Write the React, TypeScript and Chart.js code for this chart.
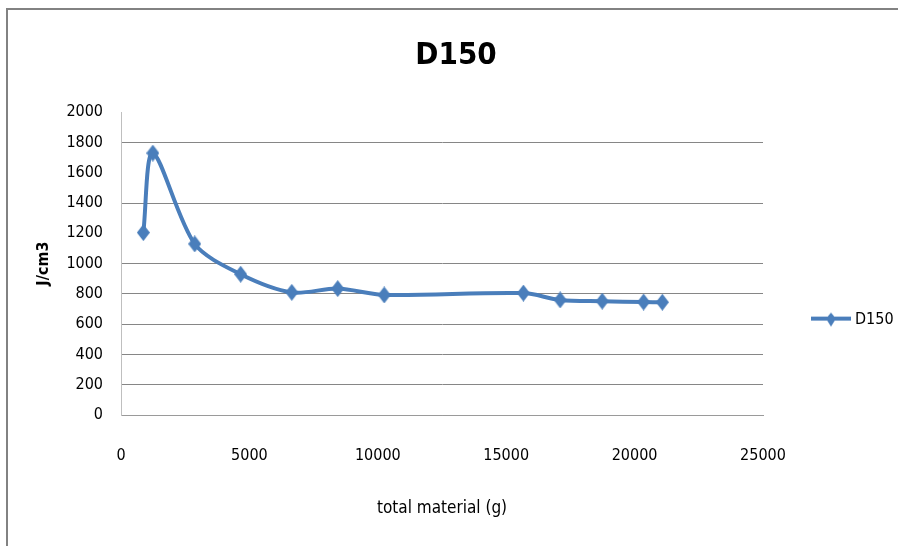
import React, { useEffect, useRef } from 'react';
import Chart from 'chart.js/auto';

// ---- data ----
const CHART_TITLE = 'D150';
const SERIES_LABEL = 'D150';
const X_TITLE = 'total material (g)';
const Y_TITLE = 'J/cm3';
const totalMaterial = [870, 1240, 2870, 4660, 6650, 8440, 10250, 15670, 17100, 18740, 20350, 21080];
const energy = [1205, 1730, 1130, 930, 810, 835, 793, 805, 760, 752, 746, 745];
const X_MIN = 0;
const X_MAX = 25000;
const X_STEP = 5000;
const Y_MIN = 0;
const Y_MAX = 2000;
const Y_STEP = 200;
const HIDDEN_GRID = [2000, 1600, 1200];

const FONT = "'Liberation Sans Narrow', 'DejaVu Sans Condensed', 'Arial Narrow', sans-serif";
const BLUE = '#4a7ebb';

function makeDiamond(w: number, h: number): HTMLCanvasElement {
  const c = document.createElement('canvas');
  c.width = w;
  c.height = h;
  const g = c.getContext('2d')!;
  g.fillStyle = BLUE;
  g.beginPath();
  g.moveTo(w / 2, 0);
  g.lineTo(w, h / 2);
  g.lineTo(w / 2, h);
  g.lineTo(0, h / 2);
  g.closePath();
  g.fill();
  return c;
}

function makeLegendIcon(): HTMLCanvasElement {
  const c = document.createElement('canvas');
  c.width = 40;
  c.height = 16;
  const g = c.getContext('2d')!;
  g.strokeStyle = BLUE;
  g.lineWidth = 4;
  g.beginPath();
  g.moveTo(0, 7);
  g.lineTo(40, 7);
  g.stroke();
  g.fillStyle = BLUE;
  g.beginPath();
  g.moveTo(20, 1);
  g.lineTo(25, 7);
  g.lineTo(20, 15);
  g.lineTo(15, 7);
  g.closePath();
  g.fill();
  return c;
}

const plain = (v: any) => String(v);

export default function App() {
  const ref = useRef<HTMLCanvasElement | null>(null);

  useEffect(() => {
    if (!ref.current) return;
    const diamond = makeDiamond(13, 17);
    const legendIcon = makeLegendIcon();
    const chart = new Chart(ref.current, {
      type: 'line',
      data: {
        datasets: [
          {
            label: SERIES_LABEL,
            data: totalMaterial.map((x, i) => ({ x, y: energy[i] })),
            borderColor: BLUE,
            backgroundColor: BLUE,
            borderWidth: 4,
            tension: 0.3,
            pointStyle: diamond as any,
            pointRadius: 7,
            pointHoverRadius: 7,
          },
        ],
      },
      options: {
        animation: false,
        responsive: false,
        devicePixelRatio: 1,
        layout: { padding: { left: 14, right: 0, top: 0, bottom: 0 } },
        plugins: {
          title: {
            display: true,
            text: CHART_TITLE,
            color: '#000',
            font: { family: FONT, size: 31, weight: 'bold' },
            padding: { top: 37, bottom: 38 },
          },
          legend: {
            position: 'right',
            maxWidth: 135,
            title: { display: true, text: '', font: { size: 1 }, padding: { top: 92, bottom: 0 } },
            labels: {
              usePointStyle: true,
              pointStyleWidth: 32,
              padding: 52,
              color: '#000',
              font: { family: FONT, size: 16 },
              generateLabels: (c: any) => {
                const items = (Chart as any).defaults.plugins.legend.labels.generateLabels(c);
                items.forEach((it: any) => {
                  it.pointStyle = legendIcon;
                });
                return items;
              },
            },
          },
          tooltip: { enabled: false },
        },
        scales: {
          x: {
            type: 'linear',
            min: X_MIN,
            max: X_MAX,
            ticks: {
              stepSize: X_STEP,
              padding: 31,
              color: '#000',
              maxRotation: 0,
              font: { family: FONT, size: 16 },
              callback: plain,
            },
            grid: { display: false, drawTicks: false },
            border: { display: true, color: '#9a9a9a', width: 1 },
            title: {
              display: true,
              text: X_TITLE,
              color: '#000',
              font: { family: FONT, size: 17 },
              padding: { top: 0, bottom: 27 },
            },
            afterFit: (s: any) => {
              s.height = 131;
            },
          },
          y: {
            type: 'linear',
            min: Y_MIN,
            max: Y_MAX,
            ticks: {
              stepSize: Y_STEP,
              padding: 18,
              color: '#000',
              font: { family: FONT, size: 16 },
              callback: plain,
            },
            grid: {
              drawTicks: false,
              lineWidth: 1,
              color: (ctx: any) =>
                ctx.tick && HIDDEN_GRID.includes(ctx.tick.value) ? 'rgba(0,0,0,0)' : '#868686',
            },
            border: { display: true, color: '#bfbfbf', width: 1 },
            title: {
              display: true,
              text: Y_TITLE,
              color: '#000',
              font: { family: FONT, size: 16, weight: 'bold' },
              padding: { top: 20, bottom: 0 },
            },
            afterFit: (s: any) => {
              s.width = 107;
            },
          },
        },
      } as any,
    });
    return () => chart.destroy();
  }, []);

  return (
    <div style={{ position: 'fixed', left: 0, top: 0, width: 898, height: 546, background: '#fff', overflow: 'hidden' }}>
      <div
        style={{
          position: 'absolute',
          left: 6,
          top: 8,
          width: 1000,
          height: 1000,
          borderLeft: '2px solid #828282',
          borderTop: '2px solid #828282',
        }}
      />
      <canvas ref={ref} width={898} height={546} style={{ position: 'absolute', left: 0, top: 0, width: 898, height: 546 }} />
    </div>
  );
}
